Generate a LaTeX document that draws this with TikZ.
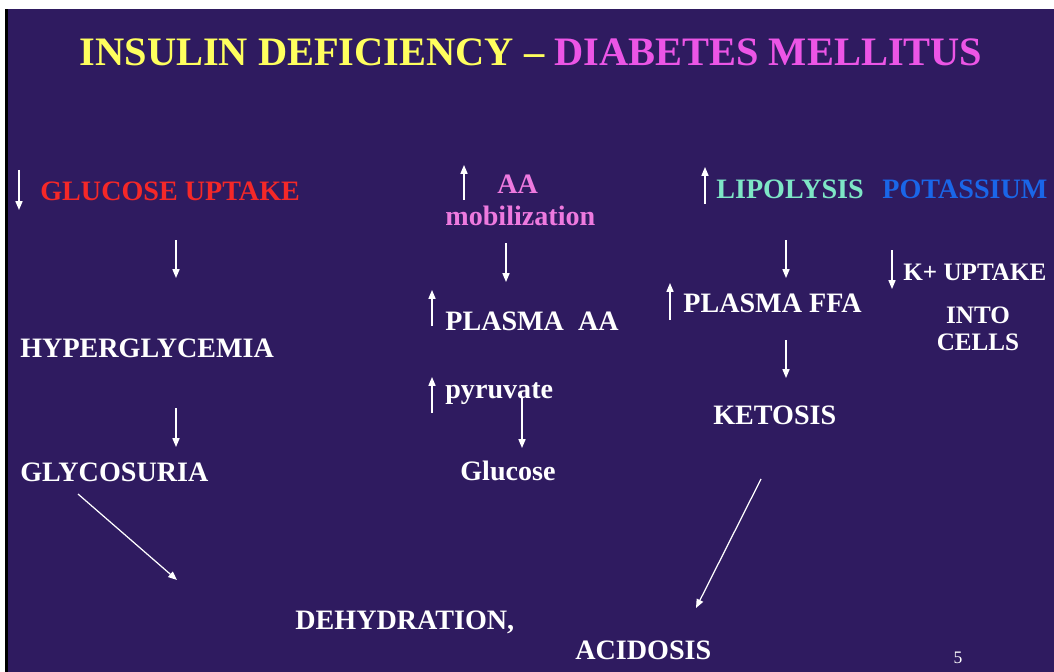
\documentclass[tikz,border=0pt]{standalone}
\usepackage{fontspec}
\setmainfont{Liberation Serif}
\usetikzlibrary{arrows.meta,positioning,calc}
\definecolor{dmBack}{HTML}{2F1B60}
\definecolor{dmYellow}{HTML}{FFFF5E}
\definecolor{dmMagenta}{HTML}{EC55E6}
\definecolor{dmPink}{HTML}{EE7ADF}
\definecolor{dmRed}{HTML}{F52828}
\definecolor{dmAqua}{HTML}{7EE6C6}
\definecolor{dmBlue}{HTML}{1A66E8}
\tikzset{
  lbl/.style={font=\fontsize{16}{18}\selectfont\bfseries, text=white, inner sep=0pt, anchor=base west},
  lblsm/.style={lbl, font=\fontsize{14.3}{16}\selectfont\bfseries},
  lblc/.style={lblsm, anchor=base},
  title/.style={font=\fontsize{23}{26}\selectfont\bfseries, inner sep=0pt, anchor=base},
  flow/.style={-{Triangle[length=5pt, width=4pt]}, white, line width=0.7pt},
  cue/.style={flow}
}
\begin{document}
\begin{tikzpicture}[x=0.02cm, y=-0.02cm]
  \useasboundingbox (0,0) rectangle (1054,672);
  \fill[white] (0,0) rectangle (1054,672);
  \fill[black] (5,9) rectangle (8,672);
  \fill[dmBack] (8,9) rectangle (1054,672);

  % title
  \node[title] (ttl) at (531,66) {\color{dmYellow}INSULIN DEFICIENCY -- \color{dmMagenta}DIABETES MELLITUS};

  % glucose column
  \node[lbl, text=dmRed] (gup) at (40,201) {GLUCOSE UPTAKE};
  \node[lbl] (hyper) at (20,357) {HYPERGLYCEMIA};
  \node[lbl] (glyco) at (20,481) {GLYCOSURIA};
  \node[lbl] (dehyd) at (295,629) {DEHYDRATION,};

  % amino acid column
  \node[lbl, text=dmPink] (aa) at (497,194) {AA};
  \node[lbl, text=dmPink] (mob) at (445,225) {mobilization};
  \node[lbl] (paa) at (445,330) {PLASMA~~AA};
  \node[lbl] (pyr) at (445,398) {pyruvate};
  \node[lbl] (glc) at (460,480) {Glucose};

  % fat column
  \node[lbl, text=dmAqua] (lipo) at (716,198) {LIPOLYSIS};
  \node[lbl] (ffa) at (683,312) {PLASMA FFA};
  \node[lbl] (keto) at (713,424) {KETOSIS};
  \node[lbl] (acid) at (575,659) {ACIDOSIS};

  % potassium column
  \node[lbl, text=dmBlue] (pot) at (882,198) {POTASSIUM};
  \node[lblsm] (kup) at (903,280) {K+ UPTAKE};
  \node[lblc] (into) at (978,323) {INTO};
  \node[lblc] (cells) at (978,350) {CELLS};

  \node[font=\fontsize{10}{12}\selectfont, text=white, inner sep=0pt, anchor=base] (pg) at (958,663) {5};

  % up / down cues
  \coordinate (c1a) at (19,170);  \coordinate (c1b) at (19,210);
  \coordinate (c2a) at (464,200); \coordinate (c2b) at (464,165);
  \coordinate (c3a) at (705,204); \coordinate (c3b) at (705,167);
  \coordinate (c4a) at (432,326); \coordinate (c4b) at (432,290);
  \coordinate (c5a) at (432,413); \coordinate (c5b) at (432,377);
  \coordinate (c6a) at (670,320); \coordinate (c6b) at (670,283);
  \coordinate (c7a) at (892,250); \coordinate (c7b) at (892,289);
  \foreach \c in {c1,c2,c3,c4,c5,c6,c7}{\draw[cue] (\c a) -- (\c b);}

  % connectors
  \coordinate (f1a) at (176,240); \coordinate (f1b) at (176,278);
  \coordinate (f2a) at (176,408); \coordinate (f2b) at (176,447);
  \coordinate (f3a) at (78,494);  \coordinate (f3b) at (177,580);
  \coordinate (f4a) at (506,243); \coordinate (f4b) at (506,282);
  \coordinate (f5a) at (522,398); \coordinate (f5b) at (522,448);
  \coordinate (f6a) at (786,240); \coordinate (f6b) at (786,278);
  \coordinate (f7a) at (786,340); \coordinate (f7b) at (786,378);
  \coordinate (f8a) at (761,479); \coordinate (f8b) at (696,608);
  \foreach \f in {f1,f2,f3,f4,f5,f6,f7,f8}{\draw[flow] (\f a) -- (\f b);}
\end{tikzpicture}
\end{document}
